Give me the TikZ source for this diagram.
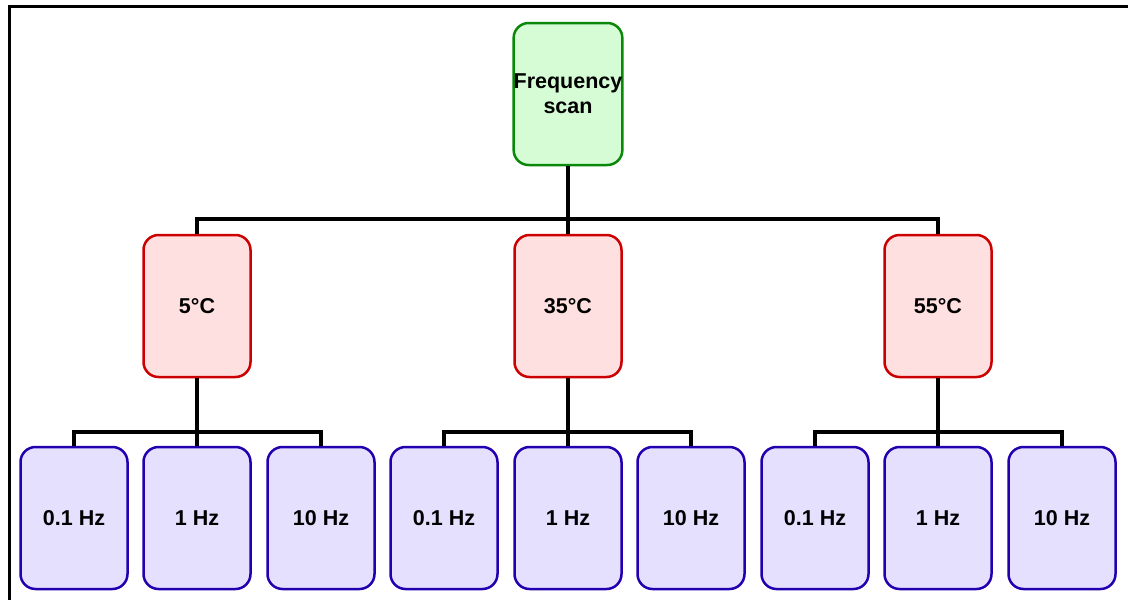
\documentclass[tikz,border=0pt]{standalone}
\usepackage{fontspec}
\setmainfont{Liberation Sans}
\definecolor{rootfill}{HTML}{D6FCD6}
\definecolor{rootline}{HTML}{0A880A}
\definecolor{tempfill}{HTML}{FFE0E0}
\definecolor{templine}{HTML}{CC0000}
\definecolor{freqfill}{HTML}{E6E0FF}
\definecolor{freqline}{HTML}{2200B0}
\tikzset{
  box/.style={rounded corners=15pt, line width=2.5pt, minimum width=107pt,
    minimum height=142pt, inner sep=0pt, align=center,
    font=\fontsize{21.5}{25}\selectfont\bfseries},
  rootbox/.style={box, draw=rootline, fill=rootfill},
  tempbox/.style={box, draw=templine, fill=tempfill},
  freqbox/.style={box, draw=freqline, fill=freqfill},
  link/.style={line width=3.5pt, black}
}
\begin{document}
\begin{tikzpicture}[x=1pt, y=-1pt]
\useasboundingbox (0,0) rectangle (1128,600);
% frame (left and top edges)
\draw[line width=3pt] (9,600) -- (9,6.5) -- (1128,6.5);

% root
\node[rootbox] (root) at (568,94) {Frequency\\scan};

% temperatures
\node[tempbox] (t1) at (197,306) {5°C};
\node[tempbox] (t2) at (568,306) {35°C};
\node[tempbox] (t3) at (938,306) {55°C};

% frequencies
\node[freqbox] (f11) at (74,518)  {0.1 Hz};
\node[freqbox] (f12) at (197,518) {1 Hz};
\node[freqbox] (f13) at (321,518) {10 Hz};
\node[freqbox] (f21) at (444,518) {0.1 Hz};
\node[freqbox] (f22) at (568,518) {1 Hz};
\node[freqbox] (f23) at (691,518) {10 Hz};
\node[freqbox] (f31) at (815,518) {0.1 Hz};
\node[freqbox] (f32) at (938,518) {1 Hz};
\node[freqbox] (f33) at (1062,518) {10 Hz};

% bus coordinates
\coordinate (bus0) at (568,219);
\coordinate (bus1) at (197,432);
\coordinate (bus2) at (568,432);
\coordinate (bus3) at (938,432);

% connectors
\draw[link] (root.south) -- (t2.north);
\draw[link] (t1.north) |- (bus0) -| (t3.north);

\draw[link] (t1.south) -- (f12.north);
\draw[link] (f11.north) |- (bus1) -| (f13.north);

\draw[link] (t2.south) -- (f22.north);
\draw[link] (f21.north) |- (bus2) -| (f23.north);

\draw[link] (t3.south) -- (f32.north);
\draw[link] (f31.north) |- (bus3) -| (f33.north);
\end{tikzpicture}
\end{document}
